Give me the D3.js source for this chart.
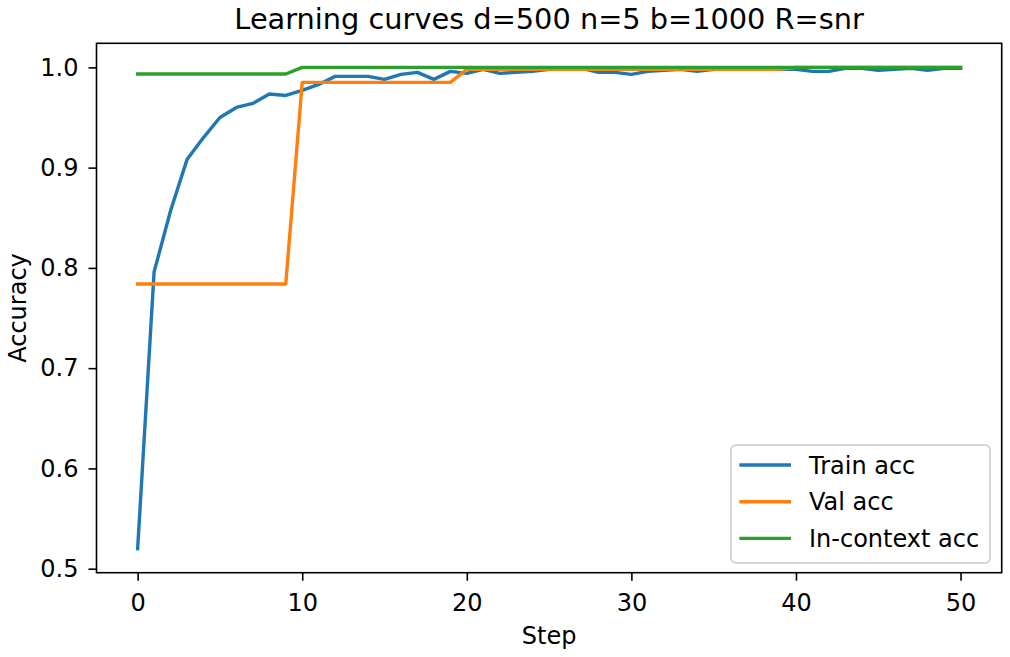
<!DOCTYPE html>
<html>
<head>
<meta charset="utf-8">
<style>
  body { margin: 0; background: #fff; }
  svg text { font-family: "DejaVu Sans", sans-serif; fill: #000; }
</style>
</head>
<body>
<div id="chart"></div>
<script src="https://d3js.org/d3.v7.min.js"></script>
<script>
// data
var steps = [0,1,2,3,4,5,6,7,8,9,10,11,12,13,14,15,16,17,18,19,20,21,22,23,24,25,
             26,27,28,29,30,31,32,33,34,35,36,37,38,39,40,41,42,43,44,45,46,47,48,49,50];

var trainAcc = [0.520,0.796,0.857,0.908,0.930,0.950,0.960,0.964,0.9735,0.972,
                0.977,0.983,0.991,0.991,0.991,0.988,0.993,0.995,0.988,0.996,
                0.994,0.998,0.994,0.995,0.996,0.998,0.998,0.999,0.995,0.995,
                0.993,0.996,0.997,0.998,0.996,0.998,0.999,0.999,0.998,0.998,
                0.998,0.996,0.996,0.999,0.999,0.997,0.998,0.999,0.997,0.999,0.999];

var valAcc = [0.784,0.784,0.784,0.784,0.784,0.784,0.784,0.784,0.784,0.784,
              0.985,0.985,0.985,0.985,0.985,0.985,0.985,0.985,0.985,0.985,
              0.998,0.998,0.998,0.998,0.998,0.998,0.998,0.998,0.998,0.998,
              0.998,0.998,0.998,0.998,0.998,0.998,0.998,0.998,0.998,0.998,
              1.0,1.0,1.0,1.0,1.0,1.0,1.0,1.0,1.0,1.0,1.0];

var ctxAcc = [0.9934,0.9934,0.9934,0.9934,0.9934,0.9934,0.9934,0.9934,0.9934,0.9934,
              1.0,1.0,1.0,1.0,1.0,1.0,1.0,1.0,1.0,1.0,
              1.0,1.0,1.0,1.0,1.0,1.0,1.0,1.0,1.0,1.0,
              1.0,1.0,1.0,1.0,1.0,1.0,1.0,1.0,1.0,1.0,
              1.0,1.0,1.0,1.0,1.0,1.0,1.0,1.0,1.0,1.0,1.0];

var seriesNames = ["Train acc", "Val acc", "In-context acc"];
var seriesColors = ["#1f77b4", "#ff7f0e", "#2ca02c"];
var xTicks = [0, 10, 20, 30, 40, 50];
var yTicks = [0.5, 0.6, 0.7, 0.8, 0.9, 1.0];

var W = 1010, H = 657;
var margin = {top: 43.3, right: 8.3, bottom: 84.3, left: 96.5};
var width = W - margin.left - margin.right,
    height = H - margin.top - margin.bottom;

var svg = d3.select("#chart").append("svg")
    .attr("width", W)
    .attr("height", H);

var x = d3.scaleLinear().domain([-2.5, 52.5]).range([0, width]);
var y = d3.scaleLinear().domain([0.496, 1.024]).range([height, 0]);

var g = svg.append("g")
    .attr("transform", "translate(" + margin.left + "," + margin.top + ")");

// lines
var allSeries = [trainAcc, valAcc, ctxAcc];
var line = d3.line()
    .x(function(d, i) { return x(steps[i]); })
    .y(function(d) { return y(d); });

allSeries.forEach(function(s, k) {
  g.append("path")
    .datum(s)
    .attr("fill", "none")
    .attr("stroke", seriesColors[k])
    .attr("stroke-width", 3.4)
    .attr("stroke-linejoin", "round")
    .attr("stroke-linecap", "square")
    .attr("d", line);
});

// axes
var xAxis = g.append("g")
    .attr("transform", "translate(0," + height + ")")
    .call(d3.axisBottom(x).tickValues(xTicks).tickSize(8).tickPadding(13).tickSizeOuter(0));
var yAxis = g.append("g")
    .call(d3.axisLeft(y).tickValues(yTicks).tickFormat(d3.format(".1f")).tickSize(8).tickPadding(10).tickSizeOuter(0));

[xAxis, yAxis].forEach(function(a) {
  a.select(".domain").remove();
  a.selectAll("line").attr("stroke", "#000").attr("stroke-width", 1.6);
  a.selectAll("text").style("font-size", "24px").attr("fill", "#000");
});

// frame
g.append("rect")
  .attr("width", width)
  .attr("height", height)
  .attr("fill", "none")
  .attr("stroke", "#000")
  .attr("stroke-width", 1.6);

// labels
svg.append("text")
  .attr("x", margin.left + width / 2)
  .attr("y", 29)
  .attr("text-anchor", "middle")
  .style("font-size", "28.8px")
  .text("Learning curves d=500 n=5 b=1000 R=snr");

svg.append("text")
  .attr("x", margin.left + width / 2)
  .attr("y", 644)
  .attr("text-anchor", "middle")
  .style("font-size", "24px")
  .text("Step");

svg.append("text")
  .attr("transform", "translate(26," + (margin.top + height / 2) + ") rotate(-90)")
  .attr("text-anchor", "middle")
  .style("font-size", "24px")
  .text("Accuracy");

// legend
var leg = svg.append("g").attr("transform", "translate(731,445)");
leg.append("rect")
  .attr("width", 259)
  .attr("height", 118)
  .attr("rx", 5)
  .attr("fill", "#fff")
  .attr("fill-opacity", 0.8)
  .attr("stroke", "#cccccc")
  .attr("stroke-width", 1.6);

seriesNames.forEach(function(name, k) {
  var ry = 20 + k * 36.7;
  leg.append("line")
    .attr("x1", 8.3).attr("x2", 60)
    .attr("y1", ry).attr("y2", ry)
    .attr("stroke", seriesColors[k])
    .attr("stroke-width", 3.4);
  leg.append("text")
    .attr("x", 78)
    .attr("y", ry)
    .attr("dy", "0.36em")
    .style("font-size", "24px")
    .text(name);
});
</script>
</body>
</html>
